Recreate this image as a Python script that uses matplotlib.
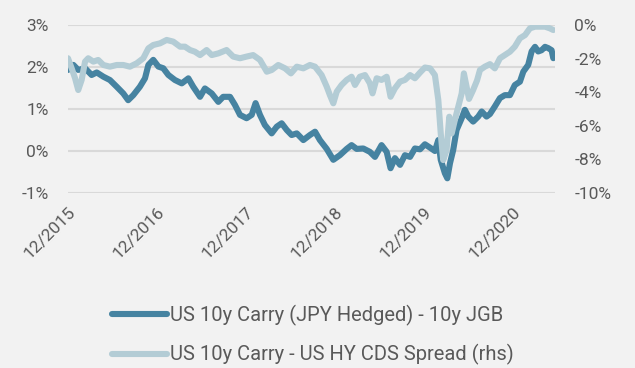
import pandas as pd
import matplotlib
matplotlib.use("Agg")
import matplotlib.pyplot as plt
import matplotlib.dates as mdates
from matplotlib.ticker import FuncFormatter

# US 10y carry (JPY hedged) - 10y JGB, % (left axis)
jpy_dates = [
    "2015-12-01", "2015-12-23", "2016-01-12", "2016-02-09", "2016-03-07", "2016-03-28",
    "2016-04-24", "2016-05-21", "2016-06-18", "2016-07-15", "2016-08-04", "2016-08-25",
    "2016-09-21", "2016-10-12", "2016-10-26", "2016-11-15", "2016-12-06", "2016-12-26",
    "2017-01-16", "2017-02-12", "2017-03-12", "2017-04-08", "2017-04-28", "2017-05-26",
    "2017-06-15", "2017-07-13", "2017-08-09", "2017-08-29", "2017-09-26", "2017-10-16",
    "2017-11-06", "2017-12-03", "2017-12-24", "2018-01-09", "2018-01-27", "2018-02-16",
    "2018-03-16", "2018-04-06", "2018-04-26", "2018-05-17", "2018-06-06", "2018-06-27",
    "2018-07-24", "2018-08-20", "2018-09-10", "2018-09-30", "2018-10-28", "2018-11-24",
    "2018-12-21", "2019-01-18", "2019-02-07", "2019-02-28", "2019-03-27", "2019-04-23",
    "2019-05-14", "2019-06-10", "2019-07-01", "2019-07-17", "2019-08-04", "2019-08-25",
    "2019-09-14", "2019-10-05", "2019-10-25", "2019-11-15", "2019-12-05", "2019-12-26",
    "2020-01-15", "2020-01-29", "2020-02-08", "2020-02-25", "2020-03-06", "2020-03-17",
    "2020-03-30", "2020-04-13", "2020-05-04", "2020-05-17", "2020-05-31", "2020-06-20",
    "2020-07-11", "2020-07-25", "2020-08-14", "2020-08-28", "2020-09-17", "2020-10-08",
    "2020-10-28", "2020-11-18", "2020-12-08", "2020-12-29", "2021-01-12", "2021-02-01",
    "2021-02-15", "2021-03-01", "2021-03-14", "2021-03-28", "2021-04-11", "2021-04-24",
    "2021-05-08", "2021-05-15",
]
jpy_carry = [
    1.93, 2.05, 1.93, 1.97, 1.81, 1.87,
    1.77, 1.69, 1.53, 1.37, 1.21, 1.33,
    1.53, 1.73, 2.05, 2.17, 2.01, 1.97,
    1.81, 1.69, 1.61, 1.73, 1.53, 1.29,
    1.49, 1.37, 1.17, 1.29, 1.29, 1.10,
    0.86, 0.78, 0.86, 1.14, 0.86, 0.62,
    0.42, 0.58, 0.66, 0.50, 0.38, 0.42,
    0.26, 0.38, 0.46, 0.26, 0.05, -0.21,
    -0.10, 0.05, 0.14, 0.05, 0.06, -0.02,
    -0.14, 0.14, -0.02, -0.41, -0.17, -0.33,
    -0.10, -0.14, 0.06, 0.04, 0.16, 0.08,
    0.00, 0.26, -0.21, -0.53, -0.65, -0.29,
    0.02, 0.50, 0.78, 0.98, 0.82, 0.70,
    0.82, 0.94, 0.82, 0.88, 1.06, 1.26,
    1.33, 1.33, 1.57, 1.65, 1.89, 2.05,
    2.37, 2.48, 2.37, 2.40, 2.48, 2.45,
    2.40, 2.21,
]

# US 10y carry - US HY CDS spread, % (right axis)
cds_dates = [
    "2015-12-01", "2015-12-16", "2015-12-30", "2016-01-12", "2016-01-26", "2016-02-09",
    "2016-02-22", "2016-03-14", "2016-04-03", "2016-04-24", "2016-05-21", "2016-06-18",
    "2016-07-15", "2016-08-11", "2016-09-08", "2016-10-05", "2016-10-26", "2016-11-15",
    "2016-12-13", "2017-01-09", "2017-02-05", "2017-03-05", "2017-03-25", "2017-04-15",
    "2017-05-05", "2017-05-26", "2017-06-22", "2017-07-13", "2017-08-09", "2017-09-12",
    "2017-10-09", "2017-11-06", "2017-12-03", "2017-12-30", "2018-01-27", "2018-02-24",
    "2018-03-16", "2018-04-12", "2018-05-10", "2018-06-03", "2018-06-27", "2018-07-24",
    "2018-08-20", "2018-09-10", "2018-10-07", "2018-10-28", "2018-11-10", "2018-11-24",
    "2018-12-08", "2018-12-28", "2019-01-18", "2019-02-07", "2019-02-21", "2019-03-13",
    "2019-04-03", "2019-04-23", "2019-05-04", "2019-05-21", "2019-06-10", "2019-07-01",
    "2019-07-17", "2019-08-04", "2019-08-25", "2019-09-14", "2019-10-05", "2019-10-25",
    "2019-11-15", "2019-12-05", "2019-12-26", "2020-01-15", "2020-01-29", "2020-02-08",
    "2020-02-18", "2020-03-03", "2020-03-14", "2020-03-24", "2020-04-06", "2020-04-20",
    "2020-05-04", "2020-05-13", "2020-05-24", "2020-06-03", "2020-06-19", "2020-07-06",
    "2020-07-18", "2020-08-07", "2020-08-28", "2020-09-17", "2020-10-08", "2020-10-28",
    "2020-11-18", "2020-12-08", "2020-12-29", "2021-01-19", "2021-02-08", "2021-03-01",
    "2021-03-21", "2021-04-11", "2021-05-01", "2021-05-15",
]
cds_spread = [
    -1.98, -2.58, -3.17, -3.87, -3.27, -2.18,
    -1.98, -2.18, -2.08, -2.38, -2.48, -2.38,
    -2.38, -2.48, -2.28, -1.98, -1.39, -1.19,
    -1.09, -0.89, -0.99, -1.29, -1.29, -1.49,
    -1.59, -1.79, -1.49, -1.79, -1.69, -1.49,
    -1.88, -1.98, -1.88, -1.79, -2.08, -2.78,
    -2.68, -2.38, -2.58, -2.88, -2.48, -2.58,
    -2.38, -2.48, -2.98, -3.67, -4.17, -4.66,
    -3.97, -3.57, -3.27, -3.08, -3.57, -3.08,
    -2.98, -3.47, -4.07, -3.17, -3.27, -3.08,
    -4.27, -3.77, -3.37, -3.27, -2.98, -3.17,
    -2.83, -2.53, -2.58, -2.98, -4.46, -6.45,
    -8.04, -7.44, -5.46, -6.45, -5.65, -4.86,
    -4.07, -2.88, -3.67, -4.40, -3.90, -3.30,
    -2.68, -2.48, -2.33, -2.58, -1.98, -1.79,
    -1.59, -1.29, -0.79, -0.60, -0.20, -0.10,
    -0.10, -0.10, -0.20, -0.30,
]

left_ticks = [3, 2, 1, 0, -1]
right_ticks = [0, -2, -4, -6, -8, -10]
labels = ["US 10y Carry (JPY Hedged) - 10y JGB", "US 10y Carry - US HY CDS Spread (rhs)"]

dark = "#4683a1"
light = "#b3ccd5"
bg = "#f2f2f2"
txt = "#595959"

plt.rcParams["font.family"] = ["Roboto", "DejaVu Sans"]

fig = plt.figure(figsize=(6.35, 3.68), dpi=100, facecolor=bg)
ax = fig.add_axes([68 / 635, 1 - 193 / 368, (555 - 68) / 635, (193 - 25) / 368])
ax.set_facecolor(bg)
ax2 = ax.twinx()

l1, = ax.plot(pd.to_datetime(jpy_dates), jpy_carry, color=dark, lw=4.4,
              solid_capstyle="round", solid_joinstyle="round")
l2, = ax2.plot(pd.to_datetime(cds_dates), cds_spread, color=light, lw=4.4,
               solid_capstyle="round", solid_joinstyle="round")

ax.set_ylim(-1, 3)
ax2.set_ylim(-10, 0)
ax.set_yticks(left_ticks)
ax2.set_yticks(right_ticks)
pct = FuncFormatter(lambda v, p: f"{v:.0f}%")
ax.yaxis.set_major_formatter(pct)
ax2.yaxis.set_major_formatter(pct)

ax.set_xlim(pd.Timestamp("2015-12-01"), pd.Timestamp("2021-05-22"))
ax.xaxis.set_major_locator(mdates.MonthLocator(bymonth=12))
ax.xaxis.set_major_formatter(mdates.DateFormatter("%m/%Y"))

ax.grid(axis="y", color="#d9d9d9", lw=1.5)
ax.set_axisbelow(True)
for a in (ax, ax2):
    for s in a.spines.values():
        s.set_visible(False)
    a.tick_params(length=0, labelsize=12.5, labelcolor=txt)
ax.tick_params(axis="y", pad=14)
ax2.tick_params(axis="y", pad=14)
ax.tick_params(axis="x", pad=8)
plt.setp(ax.get_xticklabels(), rotation=45, ha="right", rotation_mode="anchor")

fig.legend([l1, l2], labels, loc="upper left", bbox_to_anchor=(94 / 635, 1 - 287 / 368),
           frameon=False, fontsize=14.5, labelcolor=txt, handlelength=2.7,
           handletextpad=0.15, labelspacing=0.9)

fig.savefig("out.png", dpi=100, facecolor=bg)
